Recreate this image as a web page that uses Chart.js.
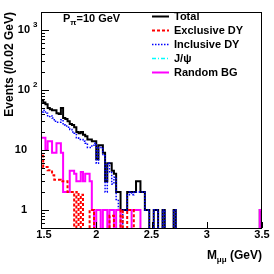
<!DOCTYPE html>
<html>
<head>
<meta charset="utf-8">
<script src="https://cdn.jsdelivr.net/npm/chart.js@4.4.1/dist/chart.umd.min.js"></script>
<style>html,body{margin:0;padding:0;background:#fff}</style>
</head>
<body>
<canvas id="myChart" width="274" height="274"></canvas>
<script>
// histogram binning: 100 bins of 0.02 GeV from 1.5 GeV
var binLow = 1.5, binWidth = 0.02;

var total = [
  68, 62, 58, 50, 48, 46, 46, 41, 40, 50,
  34, 33, 30, 27, 26, 24, 20, 19, 20, 18,
  17, 15, 15, 14, 14, 7, 12, 12, 9, 3,
  6, 6, 4.5, 4, 2, 2, 1, 1, 1, 2,
  2, 2, 2, 3, 3, 2, 2, 1, 1, 0,
  0, 1, 1, 0, 0, 1, 0, 0, 0, 0,
  1, 0, 0, 0, 0, 0, 0, 0, 0, 0,
  0, 0, 0, 0, 0, 0, 0, 0, 0, 0,
  0, 0, 0, 0, 0, 0, 0, 0, 0, 0,
  0, 0, 0, 0, 0, 0, 0, 0, 0, 1
];
var exclusiveDY = [
  8, 5.2, 5.2, 4.6, 4.6, 3.8, 3.2, 3.2, 3.2, 3,
  3, 3, 2, 2, 2, 0, 2, 0, 1.8, 0,
  0, 0, 1, 1, 0, 0, 0, 0, 0, 0,
  0, 0.8, 0.8, 0, 0, 0, 1, 0, 0, 1,
  1, 1, 0, 0, 0, 0, 0, 0, 0, 0,
  0, 0, 0, 0, 0, 0, 0, 0, 0, 0,
  0, 0, 0, 0, 0, 0, 0, 0, 0, 0,
  0, 0, 0, 0, 0, 0, 0, 0, 0, 0,
  0, 0, 0, 0, 0, 0, 0, 0, 0, 0,
  0, 0, 0, 0, 0, 0, 0, 0, 0, 0
];
var inclusiveDY = [
  43, 46, 41, 36, 37, 34, 30, 29, 29, 32,
  26, 25, 24, 22, 20, 19, 16, 15, 15, 14,
  13, 11, 11, 12, 13, 6, 11, 11, 8, 2,
  6, 4.2, 2.7, 3.5, 1.5, 1, 0, 1, 1, 1.8,
  2, 1.8, 2, 2, 2, 2, 2, 1, 1, 0,
  0, 1, 1, 0, 0, 1, 0, 0, 0, 0,
  1, 0, 0, 0, 0, 0, 0, 0, 0, 0,
  0, 0, 0, 0, 0, 0, 0, 0, 0, 0,
  0, 0, 0, 0, 0, 0, 0, 0, 0, 0,
  0, 0, 0, 0, 0, 0, 0, 0, 0, 0
];
var jpsi = [
  0, 0, 0, 0, 0, 0, 0, 0, 0, 0,
  0, 0, 0, 0, 0, 0, 0, 0, 0, 0,
  0, 0, 0, 0, 0, 0, 0, 0, 0, 0,
  0, 0, 0, 0, 0, 0, 0, 0, 0, 0,
  0, 0, 0, 0, 0, 0, 0, 0, 0, 0,
  0, 0, 0, 0, 0, 0, 0, 0, 0, 0,
  0, 0, 0, 0, 0, 0, 0, 0, 0, 0,
  0, 0, 0, 0, 0, 0, 0, 0, 0, 0,
  0, 0, 0, 0, 0, 0, 0, 0, 0, 0,
  0, 0, 0, 0, 0, 0, 0, 0, 0, 0
];
var randomBG = [
  16, 16, 10, 14, 14, 9, 9, 13, 13, 9,
  2, 2, 2, 4.5, 4.5, 4, 3, 3, 4.3, 3,
  4, 4, 3, 1, 0, 1, 1, 0, 1, 1,
  0, 1, 1, 0, 1, 1, 0, 0, 0, 0,
  0, 1, 1, 1, 1, 0, 0, 0, 0, 0,
  0, 0, 0, 0, 0, 0, 0, 0, 0, 0,
  0, 0, 0, 0, 0, 0, 0, 0, 0, 0,
  0, 0, 0, 0, 0, 0, 0, 0, 0, 0,
  0, 0, 0, 0, 0, 0, 0, 0, 0, 0,
  0, 0, 0, 0, 0, 0, 0, 0, 0, 1
];

var xTicks = [1.5, 2, 2.5, 3, 3.5];
var xTickLabels = ['1.5', '2', '2.5', '3', '3.5'];
var yTicks = [1, 10, 100, 1000];
var yTickLabels = [['1', ''], ['10', ''], ['10', '2'], ['10', '3']];

var FONT = '"Liberation Sans", Arial, sans-serif';
var LOW = 0.1; // empty bins drawn below the axis

// step outline of a histogram, like ROOT draws it
function histo(vals) {
  var pts = [{x: binLow, y: LOW}];
  vals.forEach(function (v, i) {
    pts.push({x: binLow + i * binWidth, y: v > 0 ? v : LOW});
  });
  pts.push({x: binLow + vals.length * binWidth, y: LOW});
  return pts;
}

function ds(label, vals, color, width, dash, order) {
  return {
    label: label, data: histo(vals), borderColor: color, borderWidth: width,
    borderDash: dash, stepped: true, pointRadius: 0, fill: false,
    tension: 0, clip: 0, order: order, borderCapStyle: 'butt', borderJoinStyle: 'miter'
  };
}

var rootAxes = {
  id: 'rootAxes',
  afterDatasetsDraw: function (chart) {
    var ctx = chart.ctx, a = chart.chartArea, x = chart.scales.x, y = chart.scales.y;
    ctx.save();
    ctx.strokeStyle = '#000';
    ctx.lineWidth = 1;
    ctx.setLineDash([]);
    ctx.strokeRect(a.left + 0.5, a.top + 0.5, a.right - a.left - 1, a.bottom - a.top);

    // x ticks (inward)
    ctx.beginPath();
    xTicks.forEach(function (v) {
      var px = Math.round(x.getPixelForValue(v)) + 0.5;
      ctx.moveTo(px, a.bottom);
      ctx.lineTo(px, a.bottom - 6);
    });
    // y log ticks (inward)
    for (var d = -1; d <= 3; d++) {
      for (var m = 1; m <= 9; m++) {
        var v = m * Math.pow(10, d);
        if (v < y.min - 1e-9 || v > y.max) continue;
        var py = Math.round(y.getPixelForValue(v)) + 0.5;
        ctx.moveTo(a.left, py);
        ctx.lineTo(a.left + (m === 1 ? 8 : 4), py);
      }
    }
    ctx.stroke();

    ctx.fillStyle = '#000';
    // x tick labels
    ctx.font = 'bold 11px ' + FONT;
    ctx.textAlign = 'center';
    ctx.textBaseline = 'middle';
    xTicks.forEach(function (v, i) {
      ctx.fillText(xTickLabels[i], x.getPixelForValue(v) + (i === 0 ? 3 : 0), 235);
    });
    // y tick labels
    yTicks.forEach(function (v, i) {
      var py = y.getPixelForValue(v);
      var base = yTickLabels[i][0], sup = yTickLabels[i][1];
      ctx.font = 'bold 11px ' + FONT;
      ctx.textAlign = 'right';
      ctx.textBaseline = 'middle';
      ctx.fillText(base, sup ? 30 : 27, py);
      if (sup) {
        ctx.font = 'bold 8px ' + FONT;
        ctx.textAlign = 'left';
        ctx.fillText(sup, 33, py - 5);
      }
    });

    // y title
    ctx.save();
    ctx.translate(10, a.top);
    ctx.rotate(-Math.PI / 2);
    ctx.font = 'bold 12px ' + FONT;
    ctx.textAlign = 'right';
    ctx.textBaseline = 'middle';
    ctx.fillText('Events (/0.02 GeV)', 0, 0);
    ctx.restore();

    // x title: M_{mu mu} (GeV)
    ctx.textAlign = 'right';
    ctx.textBaseline = 'alphabetic';
    ctx.font = 'bold 12px ' + FONT;
    var xr = a.right;
    ctx.fillText(' (GeV)', xr, 259);
    xr -= ctx.measureText(' (GeV)').width;
    ctx.font = 'bold 8px ' + FONT;
    ctx.fillText('\u03bc\u03bc', xr, 262);
    xr -= ctx.measureText('\u03bc\u03bc').width;
    ctx.font = 'bold 12px ' + FONT;
    ctx.fillText('M', xr, 259);

    // plot label P_pi = 10 GeV
    ctx.textAlign = 'left';
    var tx = 63;
    ctx.font = 'bold 11px ' + FONT;
    ctx.fillText('P', tx, 22);
    tx += ctx.measureText('P').width;
    ctx.font = 'bold 8px ' + FONT;
    ctx.fillText('\u03c0', tx, 25);
    tx += ctx.measureText('\u03c0').width;
    ctx.font = 'bold 11px ' + FONT;
    ctx.fillText('=10 GeV', tx, 22);

    // legend
    var legendOrder = [0, 1, 2, 3, 4];
    legendOrder.forEach(function (k, i) {
      var d = chart.data.datasets[k];
      var ly = 16 + 14 * i;
      ctx.beginPath();
      ctx.strokeStyle = d.borderColor;
      ctx.lineWidth = d.borderWidth;
      ctx.setLineDash(d.borderDash || []);
      ctx.moveTo(152, ly + 0.5);
      ctx.lineTo(169, ly + 0.5);
      ctx.stroke();
      ctx.setLineDash([]);
      ctx.fillStyle = '#000';
      ctx.font = 'bold 11px ' + FONT;
      ctx.textAlign = 'left';
      ctx.textBaseline = 'middle';
      ctx.fillText(d.label, 174, ly + 1);
    });
    ctx.restore();
  }
};

var ctx = document.getElementById('myChart').getContext('2d');
var myChart = new Chart(ctx, {
  type: 'line',
  data: {
    datasets: [
      ds('Total', total, '#000000', 2, [], 5),
      ds('Exclusive DY', exclusiveDY, '#ff0000', 2, [3, 2], 1),
      ds('Inclusive DY', inclusiveDY, '#0000ff', 1.5, [1.5, 1.5], 3),
      ds('J/\u03c8', jpsi, '#00ffff', 1.5, [4, 2, 1, 2], 4),
      ds('Random BG', randomBG, '#ff00ff', 2, [], 2)
    ]
  },
  options: {
    responsive: false,
    animation: false,
    devicePixelRatio: 1,
    layout: { padding: { left: 41, right: 12, top: 12, bottom: 46 } },
    plugins: { legend: { display: false }, tooltip: { enabled: false } },
    scales: {
      x: { type: 'linear', min: 1.5, max: 3.5, display: false },
      y: { type: 'logarithmic', min: 0.5, max: 2000, display: false }
    }
  },
  plugins: [rootAxes]
});
</script>
</body>
</html>
